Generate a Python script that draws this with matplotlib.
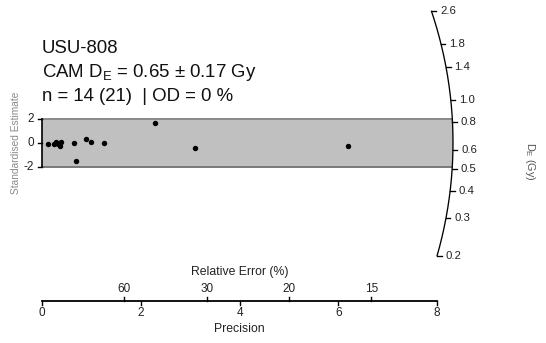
import numpy as np
import matplotlib
matplotlib.use("Agg")
import matplotlib.pyplot as plt

plt.rcParams["font.family"] = ["Liberation Sans", "DejaVu Sans"]
plt.rcParams["mathtext.fontset"] = "custom"
plt.rcParams["mathtext.rm"] = "Liberation Sans"
plt.rcParams["mathtext.it"] = "Liberation Sans:italic"

# Sample summary
sample = "USU-808"
cam_de = 0.65
cam_err = 0.17
n_used, n_total = 14, 21
od_pct = 0

# Aliquots: precision (1/relative error) and standardised estimate
precision = [0.128, 0.249, 0.289, 0.330, 0.358, 0.379, 0.648, 0.688,
             0.891, 0.986, 1.261, 2.287, 3.103, 6.194]
std_estimate = [-0.15, -0.10, 0.02, -0.15, -0.27, 0.04, -0.07, -1.57,
                0.32, 0.04, -0.07, 1.65, -0.46, -0.27]

# Axis ticks
y_ticks = [-2, 0, 2]
precision_ticks = [0, 2, 4, 6, 8]
rel_error_ticks = [60, 30, 20, 15]
de_ticks = [0.2, 0.3, 0.4, 0.5, 0.6, 0.8, 1.0, 1.4, 1.8, 2.6]
de_min, de_max = 0.2, 2.6

W, H = 546, 343
fig = plt.figure(figsize=(W / 100, H / 100), dpi=100)
ax = fig.add_axes([0, 0, 1, 1])
ax.axis("off")

# pixel scale of the data space
PXU, PYU = 49.4, 12.0          # pixels per unit (x, y)
OX, OY = 42.0, 142.5           # origin in image pixels (from top-left)
ax.set_xlim(-OX / PXU, (W - OX) / PXU)
ax.set_ylim(-(H - OY) / PYU, OY / PYU)


def P(px, py):
    """image pixel position -> data coordinates"""
    return (px - OX) / PXU, (OY - py) / PYU


R = 411.0  # radius of the De scale arc, in pixels


def arc_point(de, r=R):
    s = np.log(de / cam_de)
    th = np.arctan2(PYU * s, PXU)
    return r * np.cos(th) / PXU, r * np.sin(th) / PYU


# shaded +/-2 band
th_b = np.arcsin(2 * PYU / R)
tt = np.linspace(th_b, -th_b, 40)
bx = np.concatenate([[0], R * np.cos(tt) / PXU, [0]])
by = np.concatenate([[2], R * np.sin(tt) / PYU, [-2]])
ax.fill(bx, by, color="#c0c0c0", lw=0, zorder=1)
ax.plot([0, bx[1]], [2, 2], color="#858585", lw=1.3, zorder=2)
ax.plot([0, bx[-2]], [-2, -2], color="#707070", lw=1.3, zorder=2)

# data points
ax.plot(precision, std_estimate, "o", color="black", ms=3.9, mec="none", zorder=5)

# left axis
ax.plot([0, 0], [-2, 2], color="black", lw=1.2, zorder=3)
tick_col = "#222222"
for t in y_ticks:
    ax.plot([-4 / PXU, 0], [t, t], color="black", lw=1.0, zorder=3)
    ax.text(-8 / PXU, t, f"{t}", ha="right", va="center", fontsize=8.5,
            color=tick_col)
ax.text(*P(16, 142.5), "Standardised Estimate", rotation=90, ha="center",
        va="center", fontsize=7.3, color="#8a8a8a")

# De arc scale
ls = np.linspace(np.log(de_min), np.log(de_max), 200)
ax_, ay_ = arc_point(np.exp(ls))
ax.plot(ax_, ay_, color="black", lw=0.95, zorder=3)
for d in de_ticks:
    x, y = arc_point(d)
    ax.plot([x, x + 4.5 / PXU], [y, y], color="black", lw=0.95, zorder=3)
    ax.text(x + 8.5 / PXU, y, f"{d:.1f}", ha="left", va="center",
            fontsize=8.2, color=tick_col)
ax.text(*P(530, 161), r"D$_{\rm E}$ (Gy)", rotation=-90, ha="center",
        va="center", fontsize=7.8, color="#555555")

# precision / relative error axis
yb = P(0, 300.7)[1]
ax.plot([0, 8], [yb, yb], color="black", lw=1.3)
for t in precision_ticks:
    ax.plot([t, t], [yb, yb - 4 / PYU], color="black", lw=1.0)
    ax.text(t, P(0, 312.5)[1], f"{t}", ha="center", va="center",
            fontsize=8.5, color=tick_col)
for r in rel_error_ticks:
    x = 100.0 / r
    ax.plot([x, x], [yb, yb + 4 / PYU], color="black", lw=1.0)
    ax.text(x, P(0, 288.5)[1], f"{r}", ha="center", va="center",
            fontsize=8.5, color=tick_col)
ax.text(4, P(0, 272)[1], "Relative Error (%)", ha="center", va="center",
        fontsize=8.8, color=tick_col)
ax.text(4, P(0, 329)[1], "Precision", ha="center", va="center",
        fontsize=8.8, color=tick_col)

# summary text
title_kw = dict(ha="left", va="baseline", fontsize=13.4, color="#111111")
ax.text(*P(42, 53.3), sample, **title_kw)
ax.text(*P(42, 77.3), rf"CAM D$_{{\rm E}}$ = {cam_de:.2f} ± {cam_err:.2f} Gy", **title_kw)
ax.text(*P(42, 101.3), f"n = {n_used} ({n_total})  | OD = {od_pct} %", **title_kw)

fig.savefig("out.png", dpi=100, facecolor="white")
